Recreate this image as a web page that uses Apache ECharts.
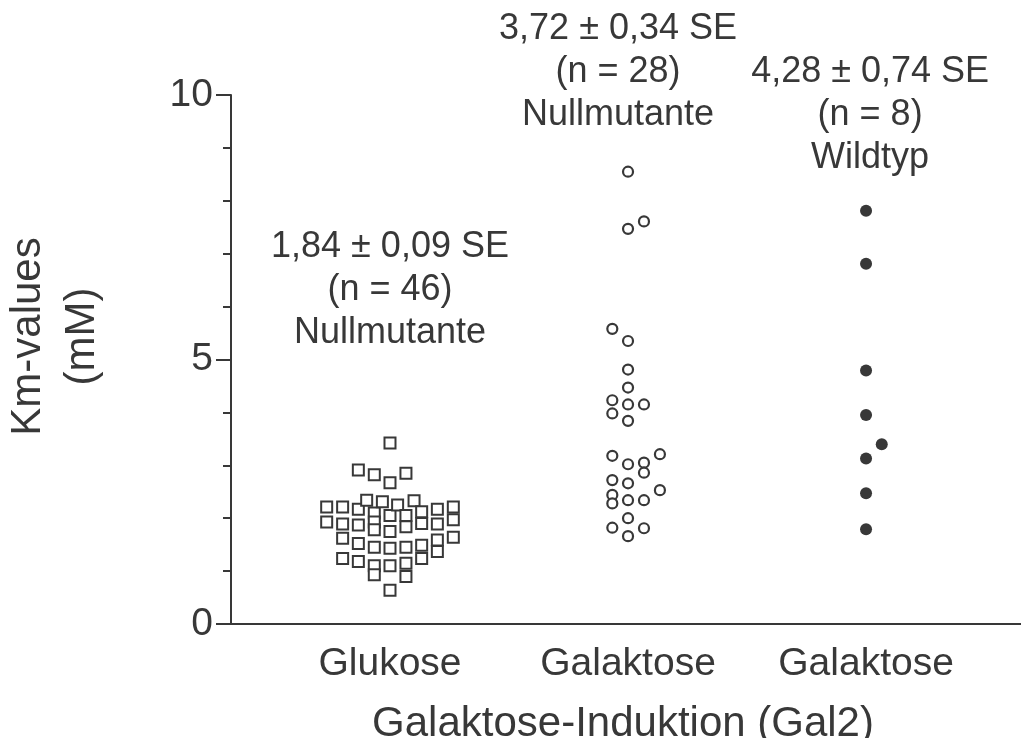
<!DOCTYPE html>
<html>
<head>
<meta charset="utf-8">
<script src="https://cdn.jsdelivr.net/npm/echarts@6/dist/echarts.min.js"></script>
<style>html,body{margin:0;padding:0;background:#fff}#c{width:1021px;height:738px}</style>
</head>
<body>
<div id="c"></div>
<script>
// Categories (group index 0,1,2 on the x value axis)
var categories = ['Glukose', 'Galaktose', 'Galaktose'];

// Glukose, Nullmutante (n = 46): horizontal spread offsets and Km values
var glukoseOffsets = [-0.266,-0.266,
  -0.199,-0.199,-0.199,-0.199,
  -0.133,-0.133,-0.133,-0.133,-0.133,
  -0.098,
  -0.066,-0.066,-0.066,-0.066,-0.066,-0.066,-0.066,
  -0.032,
  0,0,0,0,0,0,0,
  0.032,
  0.067,0.067,0.067,0.067,0.067,0.067,
  0.101,
  0.133,0.133,0.133,0.133,
  0.199,0.199,0.199,0.199,
  0.266,0.266,0.266];
var glukoseValues = [2.21,1.93,
  2.21,1.89,1.62,1.24,
  2.91,2.17,1.87,1.52,1.18,
  2.34,
  2.82,2.10,1.93,1.78,1.45,1.10,0.93,
  2.31,
  3.42,2.67,2.05,1.75,1.43,1.10,0.64,
  2.25,
  2.85,2.05,1.84,1.45,1.15,0.90,
  2.33,
  2.12,1.90,1.49,1.24,
  2.17,1.89,1.59,1.37,
  2.21,1.97,1.64];

// Galaktose, Nullmutante (n = 28)
var galNullOffsets = [0,0,0.067,
  -0.066,0,0,0,-0.066,0,0.067,-0.066,0,
  -0.066,0,0.067,0.134,0.067,
  -0.066,0,0.134,-0.066,-0.066,0,0.067,
  0,-0.066,0.067,0];
var galNullValues = [8.55,7.47,7.61,
  5.58,5.35,4.81,4.47,4.23,4.15,4.15,3.98,3.84,
  3.18,3.02,3.05,3.21,2.86,
  2.72,2.66,2.53,2.44,2.28,2.34,2.34,
  2.00,1.82,1.81,1.66];

// Galaktose, Wildtyp (n = 8)
var galWildOffsets = [0,0,0,0,0.066,0,0,0];
var galWildValues = [7.81,6.81,4.79,3.95,3.40,3.13,2.47,1.79];

// Annotation texts with anchor (group position, Km value at the text's bottom)
var annotationTexts = ['1,84 \u00b1 0,09 SE\n(n = 46)\nNullmutante',
                       '3,72 \u00b1 0,34 SE\n(n = 28)\nNullmutante',
                       '4,28 \u00b1 0,74 SE\n(n = 8)\nWildtyp'];
var annotationX = [0, 0.958, 2.017];
var annotationY = [5.10, 9.22, 8.41];

var yTicks = [0, 5, 10];

function build(groupIndex, offsets, values) {
  return values.map(function (v, i) { return [groupIndex + offsets[i], v]; });
}

var ink = '#383838';
var fontFamily = '"Liberation Sans", Arial, sans-serif';

var chart = echarts.init(document.getElementById('c'));
chart.setOption({
  backgroundColor: '#fff',
  animation: false,
  grid: { left: 231, right: 0, top: 95, bottom: 114, containLabel: false, outerBoundsMode: 'none' },
  xAxis: {
    type: 'value',
    min: -0.668,
    max: 2.651,
    splitLine: { show: false },
    axisLine: { show: true, onZero: false, lineStyle: { color: ink, width: 2 } },
    axisTick: { show: false },
    axisLabel: {
      customValues: [0, 1, 2],
      formatter: function (v) { return categories[Math.round(v)]; },
      color: ink, fontSize: 39, fontFamily: fontFamily, margin: 21
    },
    name: 'Galaktose-Induktion (Gal2)',
    nameLocation: 'middle',
    nameGap: 79,
    nameTextStyle: { color: ink, fontSize: 42, fontFamily: fontFamily, padding: [0, 6, 0, 0] }
  },
  yAxis: {
    type: 'value',
    min: 0,
    max: 10,
    interval: 5,
    splitLine: { show: false },
    axisLine: { show: true, onZero: false, lineStyle: { color: ink, width: 2 } },
    axisTick: { show: true, length: 15, lineStyle: { color: ink, width: 2 } },
    minorTick: { show: true, splitNumber: 5, length: 8, lineStyle: { color: ink, width: 2 } },
    axisLabel: { color: ink, fontSize: 39, fontFamily: fontFamily, margin: 18,
      formatter: function (v) { return yTicks.indexOf(v) >= 0 ? String(v) : ''; } },
    name: 'Km-values\n(mM)',
    nameLocation: 'middle',
    nameGap: 122,
    nameRotate: 90,
    nameTextStyle: { color: ink, fontSize: 42, fontFamily: fontFamily, lineHeight: 54, align: 'center',
      padding: [0, 0, 0, 46] }
  },
  series: [
    {
      name: 'Glukose Nullmutante', type: 'scatter',
      data: build(0, glukoseOffsets, glukoseValues),
      symbol: 'rect', symbolSize: 11,
      itemStyle: { color: '#fff', borderColor: ink, borderWidth: 2, opacity: 1 }
    },
    {
      name: 'Galaktose Nullmutante', type: 'scatter',
      data: build(1, galNullOffsets, galNullValues),
      symbol: 'circle', symbolSize: 10,
      itemStyle: { color: '#fff', borderColor: ink, borderWidth: 2.2, opacity: 1 }
    },
    {
      name: 'Galaktose Wildtyp', type: 'scatter',
      data: build(2, galWildOffsets, galWildValues),
      symbol: 'circle', symbolSize: 12,
      itemStyle: { color: ink, opacity: 1 }
    },
    {
      name: 'annotations', type: 'scatter', silent: true,
      symbolSize: 0,
      itemStyle: { opacity: 1 },
      data: annotationTexts.map(function (t, i) {
        return { value: [annotationX[i], annotationY[i]], label: { formatter: t } };
      }),
      label: {
        show: true, position: 'top', distance: 0, opacity: 1,
        color: ink, fontSize: 36, fontFamily: fontFamily, lineHeight: 43, align: 'center'
      }
    }
  ]
});
</script>
</body>
</html>
